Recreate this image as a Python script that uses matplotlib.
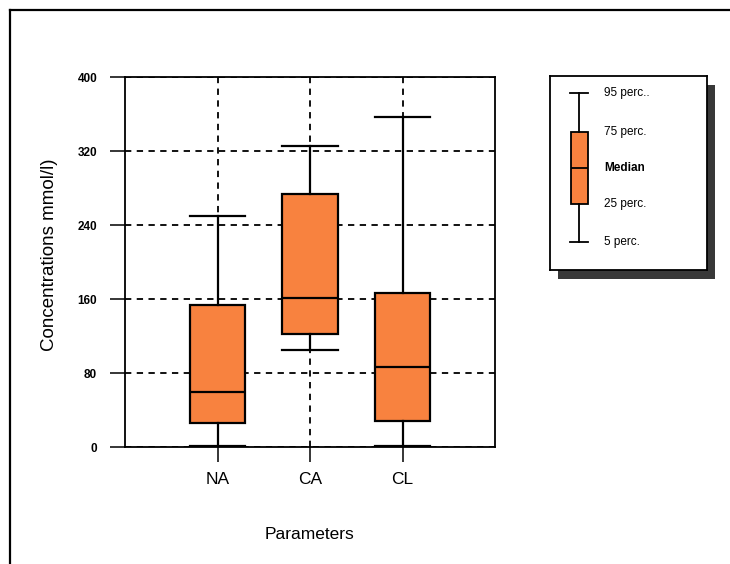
import matplotlib
matplotlib.use("Agg")
import matplotlib.pyplot as plt
from matplotlib.lines import Line2D
from matplotlib.patches import Rectangle

plt.rcParams['font.family'] = ['Liberation Sans', 'DejaVu Sans']

# box statistics (5th, 25th, median, 75th, 95th percentile)
parameters = ['NA', 'CA', 'CL']
p05 = [1, 105, 1.5]
p25 = [26, 122, 28]
median = [60, 161, 87]
p75 = [154, 274, 167]
p95 = [250, 325, 357]

y_ticks = [0, 80, 160, 240, 320, 400]
legend_labels = ['95 perc..', '75 perc.', 'Median', '25 perc.', '5 perc.']

box_color = '#F8823F'

W, H = 730, 564
fig = plt.figure(figsize=(W / 100, H / 100), dpi=100)

# outer frame (left and top edges visible)
fig.add_artist(Line2D([10 / W, 10 / W], [0, 1 - 10 / H], color='black', lw=1.6,
                      transform=fig.transFigure))
fig.add_artist(Line2D([10 / W, 1], [1 - 10 / H, 1 - 10 / H], color='black', lw=1.6,
                      transform=fig.transFigure))

ax = fig.add_axes([125 / W, 117 / H, 370 / W, 370 / H])

stats = []
for i, name in enumerate(parameters):
    stats.append({'label': name, 'whislo': p05[i], 'q1': p25[i], 'med': median[i],
                  'q3': p75[i], 'whishi': p95[i], 'fliers': []})

ax.bxp(stats, positions=[1, 2, 3], widths=0.6, patch_artist=True, showfliers=False,
       boxprops=dict(facecolor=box_color, edgecolor='black', lw=1.6),
       medianprops=dict(color='black', lw=1.6),
       whiskerprops=dict(color='black', lw=1.6),
       capprops=dict(color='black', lw=1.6),
       capwidths=0.6, zorder=3)

ax.set_xlim(0, 4)
ax.set_ylim(0, 400)
ax.set_yticks(y_ticks)
ax.set_yticklabels([str(v) for v in y_ticks], fontsize=8.5, fontweight='bold')
ax.set_xticks([1, 2, 3])
ax.set_xticklabels(parameters, fontsize=12.5)

ax.grid(True, color='black', linestyle=(0, (3.5, 3)), lw=1.3, zorder=1)
ax.set_axisbelow(True)

ax.tick_params(axis='both', direction='out', length=11, width=1.1, color='black')
ax.tick_params(axis='y', pad=9)
ax.tick_params(axis='x', pad=7)
for s in ax.spines.values():
    s.set_linewidth(1.3)

ax.set_xlabel('Parameters', fontsize=12.5)
ax.xaxis.set_label_coords(0.5, -0.216)
ax.set_ylabel('Concentrations mmol/l)', fontsize=13.5)
ax.yaxis.set_label_coords(-0.181, 0.52)

# legend panel with shadow
lx0, ly0, lw_, lh_ = 550, 76, 157, 194
fig.add_artist(Rectangle(((lx0 + 8) / W, 1 - (ly0 + lh_ + 9) / H), lw_ / W, lh_ / H,
                         transform=fig.transFigure, facecolor='#383838',
                         edgecolor='none', zorder=0))
lax = fig.add_axes([lx0 / W, 1 - (ly0 + lh_) / H, lw_ / W, lh_ / H], zorder=2)
for s in lax.spines.values():
    s.set_linewidth(1.3)

levels = [0.912, 0.711, 0.526, 0.34, 0.144]
lax.bxp([{'whislo': levels[4], 'q1': levels[3], 'med': levels[2], 'q3': levels[1],
          'whishi': levels[0], 'fliers': []}],
        positions=[0.185], widths=0.108, patch_artist=True, showfliers=False,
        boxprops=dict(facecolor=box_color, edgecolor='black', lw=1.3),
        medianprops=dict(color='black', lw=1.3),
        whiskerprops=dict(color='black', lw=1.3),
        capprops=dict(color='black', lw=1.3), capwidths=0.12)
lax.set_xlim(0, 1)
lax.set_ylim(0, 1)
lax.set_xticks([])
lax.set_yticks([])
for lev, txt in zip(levels, legend_labels):
    lax.text(0.344, lev, txt, fontsize=8.5, va='center', ha='left',
             fontweight='bold' if txt == 'Median' else 'normal')

fig.savefig('out.png', dpi=100)
